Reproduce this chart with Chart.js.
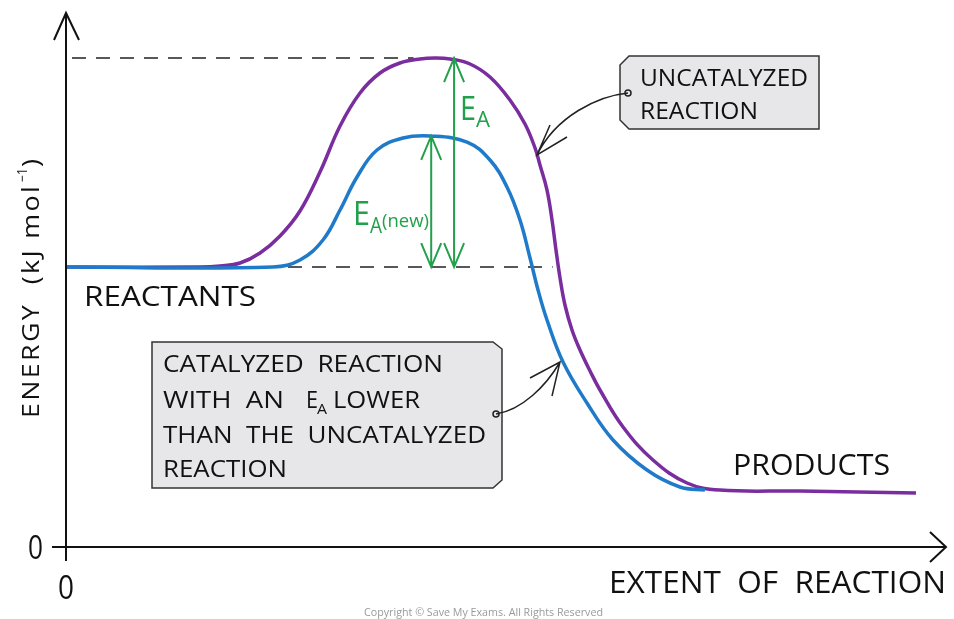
<!DOCTYPE html>
<html>
<head>
<meta charset="utf-8">
<script src="https://cdn.jsdelivr.net/npm/chart.js@4.4.1/dist/chart.umd.min.js"></script>
<style>
  html, body { margin: 0; padding: 0; background: #fff; }
  #wrap { width: 954px; height: 619px; }
</style>
</head>
<body>
<div id="wrap"><canvas id="myChart" width="954" height="619"></canvas></div>
<script>
// extent of reaction (0-100) and energy (0-100, arbitrary units)
var uncatX = [0, 15.23, 17.50, 19.77, 22.05, 24.32, 26.59, 28.86, 31.14, 33.41, 35.68, 37.95, 40.23, 41.93, 43.64, 45.91, 48.18, 50.45, 52.16, 53.30, 53.86, 54.66, 55.23, 55.68, 56.14, 56.70, 57.50, 58.41, 59.55, 60.68, 63.30, 66.70, 70.57, 74.32, 83.41, 96.59];
var uncatE = [52.43, 52.43, 52.62, 53.18, 55.06, 58.24, 62.92, 70.22, 78.84, 85.02, 88.76, 90.64, 91.39, 91.57, 91.39, 90.45, 88.01, 83.71, 79.21, 74.72, 71.54, 66.85, 61.24, 55.62, 50.37, 45.32, 40.64, 36.89, 32.96, 29.40, 22.47, 16.29, 11.99, 10.67, 10.49, 10.11];
var catX = [0, 23.52, 26.59, 29.20, 31.14, 33.07, 35.34, 38.30, 41.36, 45.57, 48.18, 50.11, 51.59, 52.73, 53.64, 54.66, 56.48, 59.20, 62.16, 66.02, 69.77, 72.61];
var catE = [52.43, 52.43, 53.75, 57.49, 63.11, 69.29, 74.34, 76.59, 76.97, 75.84, 72.47, 67.42, 61.24, 54.12, 48.13, 42.51, 34.64, 26.97, 20.04, 14.42, 11.24, 10.67];

var reactantLevel = 52.43;
var peakLevel = 91.57;
var catPeakLevel = 76.97;
var eaX = 44.1;
var eaNewX = 41.5;

function pts(xs, ys) {
    var out = [];
    for (var i in xs) out.push({x: xs[i], y: ys[i]});
    return out;
}

var FONT = '"Open Sans", sans-serif';

// draw text, optionally squeezed/stretched to a target width, optional letter spacing
function txt(ctx, s, x, y, size, w, color, ls) {
    ctx.save();
    ctx.font = size + 'px ' + FONT;
    ctx.fillStyle = color || '#111';
    ctx.textBaseline = 'alphabetic';
    ctx.textAlign = 'left';
    if (ls) ctx.letterSpacing = ls + 'px';
    var m = ctx.measureText(s).width;
    ctx.translate(x, y);
    if (w) ctx.scale(w / m, 1);
    ctx.fillText(s, 0, 0);
    ctx.restore();
}

function vArrow(ctx, x, y0, y1, color) {
    ctx.save();
    ctx.strokeStyle = color;
    ctx.lineWidth = 2;
    ctx.beginPath();
    ctx.moveTo(x, y0); ctx.lineTo(x, y1);
    ctx.moveTo(x - 10, y0 + 24); ctx.lineTo(x, y0); ctx.lineTo(x + 10, y0 + 24);
    ctx.moveTo(x - 10, y1 - 24); ctx.lineTo(x, y1); ctx.lineTo(x + 10, y1 - 24);
    ctx.stroke();
    ctx.restore();
}

function pointer(ctx, sx, sy, c1x, c1y, c2x, c2y, ex, ey, a1x, a1y, a2x, a2y) {
    ctx.save();
    ctx.strokeStyle = '#222';
    ctx.lineWidth = 1.5;
    ctx.beginPath();
    ctx.arc(sx, sy, 3, 0, Math.PI * 2);
    ctx.stroke();
    ctx.beginPath();
    ctx.moveTo(sx, sy);
    ctx.bezierCurveTo(c1x, c1y, c2x, c2y, ex, ey);
    ctx.moveTo(a1x, a1y); ctx.lineTo(ex, ey); ctx.lineTo(a2x, a2y);
    ctx.stroke();
    ctx.restore();
}

var guides = {
    id: 'guides',
    beforeDatasetsDraw: function(chart) {
        var ctx = chart.ctx, xs = chart.scales.x, ys = chart.scales.y;
        ctx.save();
        ctx.strokeStyle = '#222';
        ctx.lineWidth = 1.6;
        ctx.setLineDash([14, 10]);
        ctx.beginPath();
        ctx.moveTo(xs.getPixelForValue(0) + 6, ys.getPixelForValue(peakLevel));
        ctx.lineTo(xs.getPixelForValue(39.5), ys.getPixelForValue(peakLevel));
        ctx.moveTo(xs.getPixelForValue(0) + 6, ys.getPixelForValue(reactantLevel));
        ctx.lineTo(xs.getPixelForValue(55.3), ys.getPixelForValue(reactantLevel));
        ctx.stroke();
        ctx.restore();
    },
    afterDatasetsDraw: function(chart) {
        var ctx = chart.ctx, xs = chart.scales.x, ys = chart.scales.y;
        var left = xs.getPixelForValue(0), bottom = ys.getPixelForValue(0);

        // axes with arrow heads
        ctx.save();
        ctx.strokeStyle = '#111';
        ctx.lineWidth = 2;
        ctx.beginPath();
        ctx.moveTo(left, 561); ctx.lineTo(left, 13);
        ctx.moveTo(left - 12, 40); ctx.lineTo(left, 13); ctx.lineTo(left + 13, 40);
        ctx.moveTo(52, bottom); ctx.lineTo(946, bottom);
        ctx.moveTo(930, 532); ctx.lineTo(946, bottom); ctx.lineTo(930, 562);
        ctx.stroke();
        ctx.restore();

        // activation energy arrows
        var green = '#22a04b';
        vArrow(ctx, xs.getPixelForValue(eaX), ys.getPixelForValue(peakLevel), ys.getPixelForValue(reactantLevel), green);
        vArrow(ctx, xs.getPixelForValue(eaNewX), ys.getPixelForValue(catPeakLevel), ys.getPixelForValue(reactantLevel), green);
        txt(ctx, 'E', 460, 120, 33, 16, green);
        txt(ctx, 'A', 476, 127, 21, 14, green);
        txt(ctx, 'E', 353, 225, 33, 17, green);
        txt(ctx, 'A', 370, 233, 21, 12, green);
        txt(ctx, '(new)', 382, 227, 19, 47, green);

        // labels
        txt(ctx, 'REACTANTS', 84, 306, 27, 172);
        txt(ctx, 'PRODUCTS', 733, 475, 29, 157);
        txt(ctx, 'EXTENT  OF  REACTION', 609, 593, 31, 337);
        txt(ctx, '0', 28, 559, 33, 15);
        txt(ctx, '0', 58, 599, 33, 16);

        // y axis title
        ctx.save();
        ctx.translate(39, 418);
        ctx.rotate(-Math.PI / 2);
        txt(ctx, 'ENERGY  (kJ mol', 0, 0, 23, 234, '#111', 2);
        txt(ctx, '\u22121', 236, -12, 14, 14);
        txt(ctx, ')', 251, 0, 23, 8);
        ctx.restore();

        // tag boxes
        ctx.save();
        ctx.fillStyle = '#e7e6e9';
        ctx.strokeStyle = '#333';
        ctx.lineWidth = 1.5;
        ctx.beginPath();
        ctx.moveTo(629, 56); ctx.lineTo(819, 56); ctx.lineTo(819, 129); ctx.lineTo(629, 129);
        ctx.lineTo(620, 120); ctx.lineTo(620, 65); ctx.closePath();
        ctx.fill(); ctx.stroke();
        ctx.beginPath();
        ctx.moveTo(152, 342); ctx.lineTo(493, 342); ctx.lineTo(502, 349); ctx.lineTo(502, 480);
        ctx.lineTo(493, 488); ctx.lineTo(152, 488); ctx.closePath();
        ctx.fill(); ctx.stroke();
        ctx.restore();

        txt(ctx, 'UNCATALYZED', 640, 86, 23, 168);
        txt(ctx, 'REACTION', 640, 119, 23, 118);
        txt(ctx, 'CATALYZED  REACTION', 163, 372, 23, 280);
        txt(ctx, 'WITH  AN', 163, 408, 23, 121);
        txt(ctx, 'E', 306, 408, 23, 12);
        txt(ctx, 'A', 317, 414, 15, 10);
        txt(ctx, 'LOWER', 333, 408, 23, 87);
        txt(ctx, 'THAN  THE  UNCATALYZED', 163, 443, 23, 323);
        txt(ctx, 'REACTION', 163, 477, 23, 124);

        pointer(ctx, 628, 93, 598, 96, 556, 116, 537, 155, 550, 125, 567, 137);
        pointer(ctx, 496, 414, 522, 410, 546, 386, 560, 362, 530, 378, 552, 396);

        txt(ctx, 'Copyright \u00a9 Save My Exams. All Rights Reserved', 364, 616, 10, 239, '#9a9a9a');
    }
};

var ctx = document.getElementById('myChart');

var EnergyChart = new Chart(ctx, {
    type: 'line',
    data: {
        datasets: [{
            label: 'Catalyzed',
            data: pts(catX, catE),
            borderColor: '#1f7bc9',
            borderWidth: 3.5,
            pointRadius: 0,
            tension: 0.4,
            fill: false
        }, {
            label: 'Uncatalyzed',
            data: pts(uncatX, uncatE),
            borderColor: '#7a2d9e',
            borderWidth: 3.5,
            pointRadius: 0,
            tension: 0.4,
            fill: false
        }]
    },
    options: {
        responsive: false,
        animation: false,
        clip: false,
        layout: { padding: { left: 66, right: 8, top: 13, bottom: 72 } },
        scales: {
            x: { type: 'linear', min: 0, max: 100, display: false },
            y: { min: 0, max: 100, display: false }
        },
        plugins: {
            legend: { display: false },
            tooltip: { enabled: false }
        }
    },
    plugins: [guides]
});
</script>
</body>
</html>
